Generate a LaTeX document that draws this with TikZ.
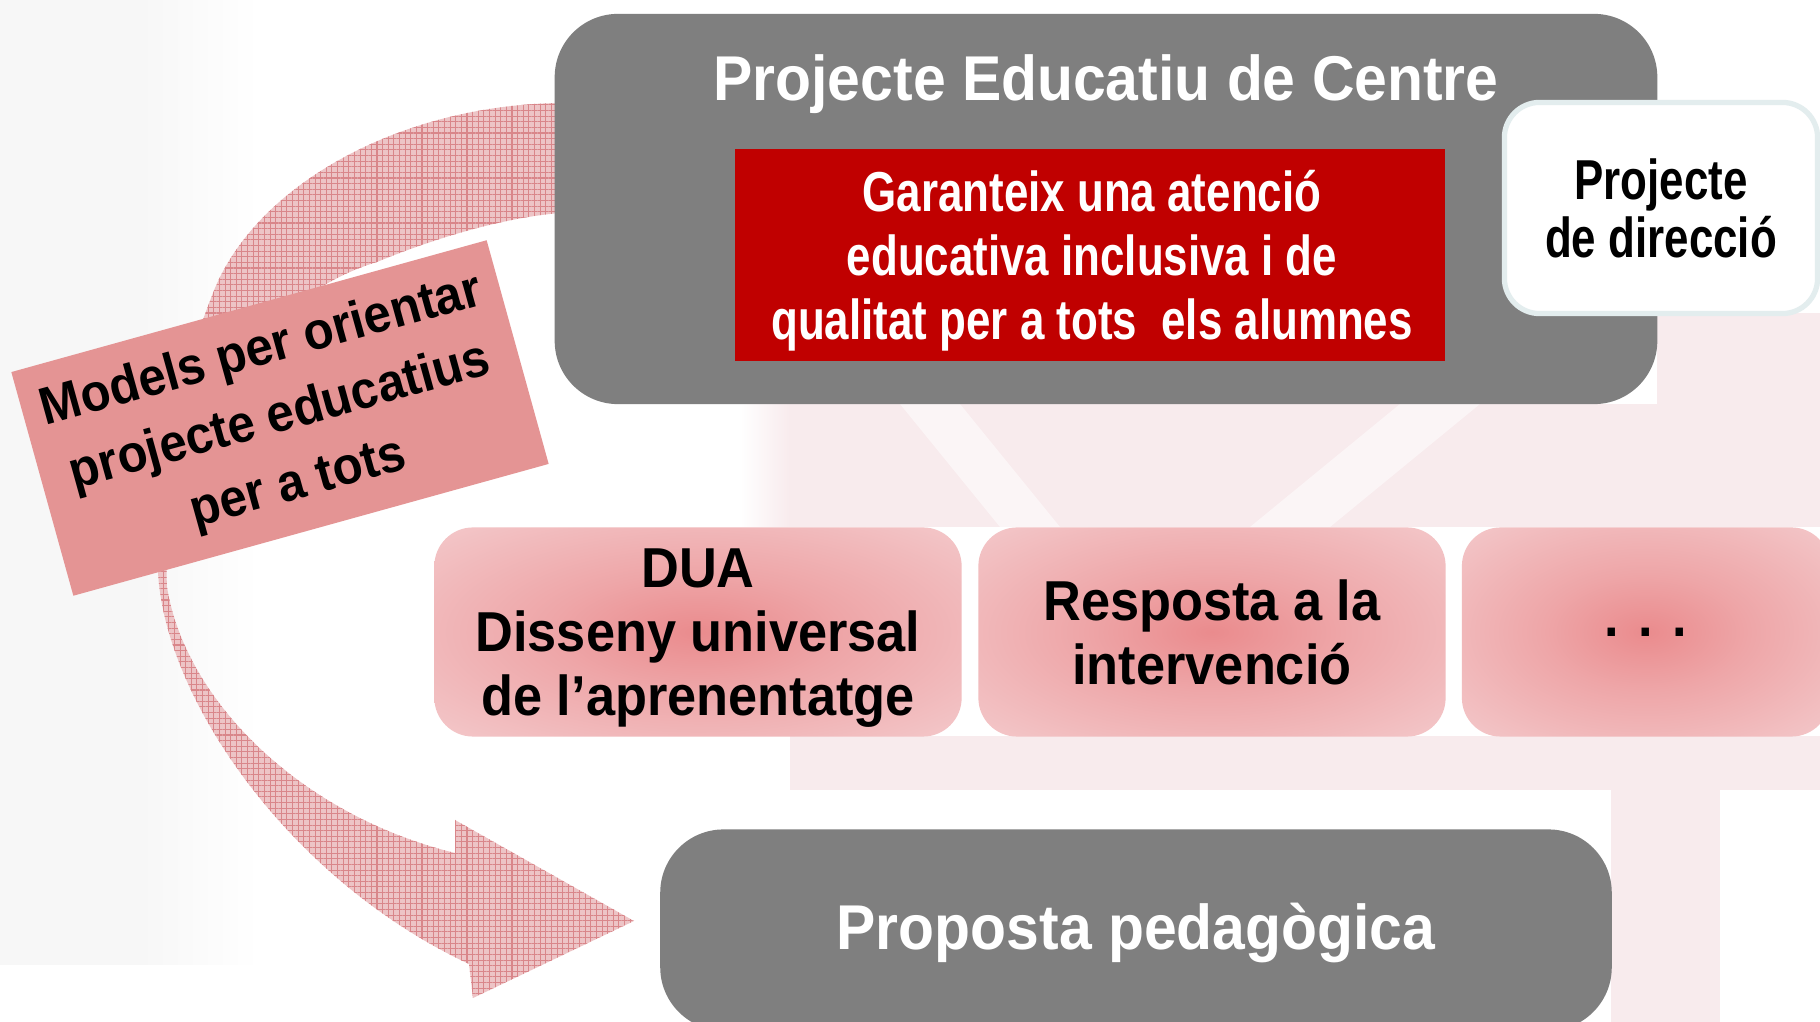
\documentclass[tikz,border=0pt]{standalone}
\usepackage{fontspec}
\setmainfont{Liberation Sans}
\newfontfamily\plainfont[FakeStretch=0.93]{Liberation Sans}
\newfontfamily\narrowfont[FakeStretch=0.78]{Liberation Sans}
\usetikzlibrary{positioning}
\usetikzlibrary{patterns.meta}
\definecolor{color_box_gray}{HTML}{7F7F7F}
\definecolor{color_box_red}{HTML}{C00000}
\definecolor{color_label_pink}{HTML}{E49494}
\definecolor{color_glow_center}{HTML}{EA8B8D}
\definecolor{color_glow_mid}{HTML}{EEA6A8}
\definecolor{color_glow_edge}{HTML}{F6D8DA}
\definecolor{color_arrow_fill}{HTML}{EDC4C6}
\definecolor{color_arrow_grid}{HTML}{D9868A}
\definecolor{color_border_direccio}{HTML}{E3EDEE}
\definecolor{color_bg_gray}{HTML}{F7F7F7}
\definecolor{color_bg_pink}{HTML}{F8EBED}
\pgfdeclareradialshading{pinkglow}{\pgfpoint{0bp}{0bp}}{color(0bp)=(color_glow_center); color(14bp)=(color_glow_mid); color(46bp)=(color_glow_edge); color(80bp)=(color_glow_edge)}
\def\titlefont{\plainfont\bfseries\fontsize{18}{21}\selectfont}
\def\boxfont{\plainfont\bfseries\fontsize{16}{18.2}\selectfont}
\def\narrowboxfont{\narrowfont\bfseries\fontsize{16}{18.2}\selectfont}
% curved block arrow, full-size pixel units
\def\arrowpath{
    (600,103) -- (560,103) .. controls (400,105) and (255,185) .. (213,293)
    .. controls (188,358) and (145,480) .. (158,572)
    .. controls (165,700) and (290,880) .. (469,964)
    -- (473,998) -- (634,921) -- (455,820) -- (455,853)
    .. controls (300,815) and (185,700) .. (167,587)
    .. controls (160,450) and (250,300) .. (377,262)
    .. controls (430,240) and (500,218) .. (560,213) -- (600,213) -- cycle
}
\tikzset{
    graybox/.style={fill=color_box_gray, rounded corners=18pt, inner sep=0pt},
    pinkbox/.style={shading=pinkglow, rounded corners=11pt, inner sep=0pt, align=center, font=\boxfont},
    boxtext/.style={inner sep=0pt, align=center},
}

\begin{document}
\begin{tikzpicture}[x=0.01cm, y=-0.01cm]
        \useasboundingbox (0,0) rectangle (1820,1022);
        \fill[white] (0,0) rectangle (1820,1022);
        % faint background
        \fill[color_bg_gray] (0,0) rectangle (140,965);
        \shade[left color=color_bg_gray, right color=white] (140,0) rectangle (260,965);
        \fill[color_bg_pink] (790,404) rectangle (1820,527);
        \shade[left color=white, right color=color_bg_pink] (740,404) rectangle (790,527);
        \fill[color_bg_pink] (1657,313) rectangle (1820,404);
        \fill[color_bg_pink] (790,736) rectangle (1820,790);
        \fill[color_bg_pink] (1611,790) rectangle (1720,1022);
        \fill[white, opacity=0.5] (900,404) -- (960,404) -- (1060,527) -- (1000,527) -- cycle;
        \fill[white, opacity=0.5] (1250,527) -- (1330,527) -- (1480,404) -- (1400,404) -- cycle;
        % arrow
        \fill[color_arrow_fill] \arrowpath;
        \fill[pattern={Lines[distance=1.6pt, angle=0, line width=0.3pt]}, pattern color=color_arrow_grid] \arrowpath;
        \fill[pattern={Lines[distance=1.6pt, angle=90, line width=0.3pt]}, pattern color=color_arrow_grid] \arrowpath;
        % rotated label
        \node[fill=color_label_pink, rotate=15.5, minimum width=4.93cm, minimum height=2.32cm, inner sep=0pt, align=center,
              font={\plainfont\bfseries\fontsize{15}{19.6}\selectfont}] (models) at (280,418)
              {Models per orientar\\projecte educatius\\per a tots};
        % projecte educatiu de centre
        \node[graybox, minimum width=11.02cm, minimum height=3.90cm] (pec) at (1106,209) {};
        \node[text=white, font=\titlefont, inner sep=0pt] (pectitle) at (1106,84) {Projecte Educatiu de Centre};
        \node[fill=color_box_red, minimum width=7.10cm, minimum height=2.12cm, inner sep=0pt] (garantia) at (1090,255) {};
        \node[boxtext, text=white, font=\narrowboxfont] (garantiatext) at (1092,261)
              {Garanteix una atenció\\educativa inclusiva i de\\qualitat per a tots\ \ els alumnes};
        \node[fill=white, draw=color_border_direccio, line width=1.5pt, rounded corners=10pt,
              minimum width=3.13cm, minimum height=2.11cm, inner sep=0pt, align=center,
              font={\narrowfont\bfseries\fontsize{16}{16.5}\selectfont}] (direccio) at (1661,208)
              {\rule{0pt}{6pt}Projecte\\de direcció};
        % models
        \node[pinkbox, minimum width=5.27cm, minimum height=2.09cm] (dua) at (698,632) {};
        \node[boxtext, font=\boxfont] (duatext) at (698,638)
              {DUA\\Disseny universal\\de l’aprenentatge};
        \node[pinkbox, minimum width=4.67cm, minimum height=2.09cm] (rti) at (1212,632)
              {Resposta a la\\intervenció};
        \node[pinkbox, minimum width=3.68cm, minimum height=2.09cm] (altres) at (1646,632)
              {. . .};
        % proposta pedagogica
        \node[graybox, minimum width=9.51cm, minimum height=2.01cm] (proposta) at (1136,930) {};
        \node[boxtext, text=white, font=\titlefont] (propostatext) at (1136,933) {Proposta pedagògica};
\end{tikzpicture}
\end{document}
